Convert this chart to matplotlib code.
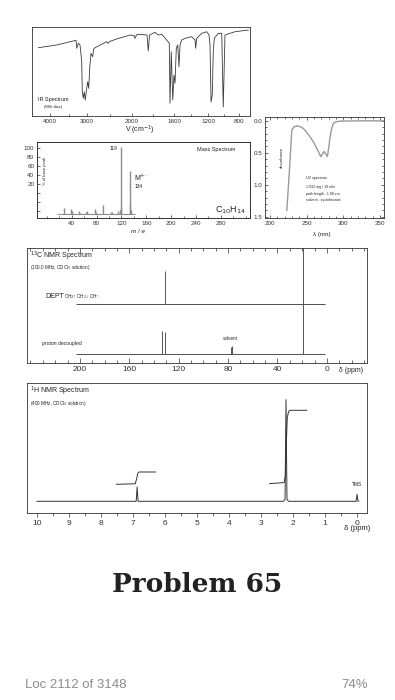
import numpy as np
import matplotlib
matplotlib.use('Agg')
from matplotlib import pyplot as plt
from matplotlib.ticker import FixedLocator, MultipleLocator, FuncFormatter

W, H = 395, 700

# IR trace (wavenumber cm-1, % transmittance)
ir_wn = [4316, 3819, 3370, 3297, 3278, 3235, 3189, 3143, 3127, 3100, 3073, 3046, 3008, 2984, 2962,
         2940, 2911, 2873, 2851, 2822, 2562, 2533, 2500, 2340, 2044, 1981, 1971, 1957, 1940, 1857,
         1845, 1833, 1819, 1781, 1750, 1717, 1670, 1645, 1638, 1626, 1612, 1600, 1588, 1573, 1556,
         1541, 1529, 1509, 1471, 1392, 1353, 1345, 1333, 1274, 1215, 1187, 1174, 1161, 1145, 1132,
         1119, 1067, 1023, 1003, 981, 852, 680]
ir_t = [76.7, 79.8, 84.3, 85.1, 76.1, 81.7, 79.8, 61, 27.3, 19.9, 27.3, 18, 31.1, 38.5, 31.1,
        53.6, 70.4, 66.6, 75.3, 76.7, 83.5, 81.5, 83.7, 86.5, 91, 90.4, 87.3, 91, 91.8, 91,
        73, 91, 91.8, 94, 91, 91.8, 85.4, 81.7, 14.3, 72.2, 18, 46, 36.7, 76, 79.8,
        55.4, 79.8, 85.4, 87.3, 89.1, 85.4, 76.1, 87.3, 92.9, 94.7, 91, 79.8, 15.7, 23.6, 72.2,
        87.3, 92.9, 92.9, 10.1, 91, 94.7, 96.6]
ir_ticks = [4000, 3000, 2000, 1600, 1200, 800]

# mass spectrum
ms_mz = [27, 39, 41, 51, 53, 63, 65, 77, 79, 91, 103, 105, 115, 117, 119, 120, 133, 134, 135]
ms_int = [8.5, 7.5, 4, 4.5, 2, 2.5, 5, 7, 3, 14, 3, 3.5, 4.5, 6, 100, 10, 14, 64, 6]

# UV trace (nm, absorbance)
uv_nm = [222.8, 226.5, 229.6, 232.5, 236.4, 241, 245.4, 250, 254.6, 259, 263.7, 267, 269.2,
         271.5, 273.7, 276, 278.2, 280, 281.9, 284, 286.4, 290, 295.5, 320, 355]
uv_a = [1.40, 0.75, 0.145, 0.095, 0.08, 0.09, 0.12, 0.18, 0.25, 0.33, 0.43, 0.51, 0.56,
        0.52, 0.48, 0.52, 0.56, 0.42, 0.25, 0.12, 0.04, 0.015, 0.005, 0.0, 0.0]

# 13C lines (ppm, height)
c_dept_ppm = [131.0, 19.1]
c_dept_int = [33, 80]
c_dec_ppm = [133.6, 131.0, 77.3, 77.0, 76.7, 19.1]
c_dec_int = [23, 22, 7, 8, 7, 50]

# 1H trace and integrals
h_ppm = [10.0, 6.90, 6.87, 6.84, 2.30, 2.25, 2.22, 2.19, 2.14, 0.03, 0.0, -0.03, -0.05]
h_int = [0, 0, 14.3, 0, 0, 2, 101.7, 2, 0, 0, 7, 0, 0]
int1_ppm = [7.52, 6.93, 6.89, 6.85, 6.81, 6.30]
int1 = [0, 0.5, 5, 11, 12.3, 12.3]
int2_ppm = [2.73, 2.28, 2.24, 2.21, 2.18, 2.14, 2.10, 1.57]
int2 = [0, 1, 8, 40, 66, 72, 73.3, 73.3]

plt.rcParams['font.family'] = ['Liberation Sans', 'DejaVu Sans']
plt.rcParams['axes.linewidth'] = 0.6
plt.rcParams['axes.edgecolor'] = '#333333'
plt.rcParams['text.color'] = '#222222'
plt.rcParams['xtick.color'] = '#333333'
plt.rcParams['ytick.color'] = '#333333'

fig = plt.figure(figsize=(W / 100, H / 100), dpi=100)


def box(x0, y0, x1, y1):
    return fig.add_axes([x0 / W, 1 - y1 / H, (x1 - x0) / W, (y1 - y0) / H])


def label(x, y, s, **kw):
    kw.setdefault('va', 'center')
    fig.text(x / W, 1 - y / H, s, **kw)


# the printed IR chart is piecewise linear (scale changes at 2000 cm-1)
ir_grid_wn = [658, 800, 1200, 1600, 2000, 3000, 4000, 4487]
ir_grid_pos = [-250, -239, -208, -174, -132, -87, -50, -32]


def ir_fwd(w):
    return np.interp(np.asarray(w, float), ir_grid_wn, ir_grid_pos)


def ir_inv(p):
    return np.interp(np.asarray(p, float), ir_grid_pos, ir_grid_wn)


# IR
ax = box(32, 27, 250, 116)
ax.set_xscale('function', functions=(ir_fwd, ir_inv))
ax.set_xlim(4487, 658)
ax.set_ylim(0, 100)
ax.plot(ir_wn, ir_t, color='#3a3a3a', lw=0.6)
ax.set_yticks([])
ax.xaxis.set_major_locator(FixedLocator(ir_ticks))
ax.xaxis.set_major_formatter(FuncFormatter(lambda v, p: f'{v:.0f}'))
ax.xaxis.set_minor_locator(FixedLocator([3500, 2500, 1800, 1400, 1000]))
ax.tick_params(axis='x', which='both', direction='in', length=2, width=0.5, labelsize=4.5, pad=2)
ax.tick_params(axis='x', which='minor', length=1.2)
label(140, 130, 'V (cm$^{-1}$)', ha='center', fontsize=5)
label(38, 100, 'IR Spectrum', fontsize=4)
label(44, 107, '(KBr disc)', fontsize=3)

# mass spectrum
ax = box(37, 142, 250, 218)
ax.set_xlim(-16, 327)
ax.set_ylim(-54.5, 114.4)
ax.yaxis.set_major_locator(FixedLocator([-40, -20, 0, 20, 40, 60, 80, 100]))
ax.yaxis.set_major_formatter(FuncFormatter(lambda v, p: f'{v:.0f}' if v >= 20 else ''))
ax.xaxis.set_major_locator(FixedLocator([40, 80, 120, 160, 200, 240, 280]))
ax.xaxis.set_minor_locator(MultipleLocator(20))
ax.tick_params(which='both', direction='in', length=2, width=0.5, labelsize=4.5, pad=2)
ax.tick_params(which='minor', length=1.2)
axp = ax.twinx()
axp.set_ylim(-6, 107.6)
axp.set_yticks([])
axp.hlines(0, 16, 142, color='#8c8c8c', lw=0.8)
axp.vlines(ms_mz, 0, ms_int, color='#8c8c8c', lw=1.0)
axp.text(114, 98, '119', ha='right', va='center', fontsize=3.5)
axp.text(141, 54, 'M$^{+\\cdot}$', ha='left', va='center', fontsize=5)
axp.text(141, 41, '134', ha='left', va='center', fontsize=3.5)
label(216, 149, 'Mass Spectrum', ha='center', fontsize=4)
label(231, 210, 'C$_{10}$H$_{14}$', ha='center', fontsize=6.5)
label(45, 171, '% of base peak', ha='center', rotation=90, fontsize=3)
label(138, 231, 'm / e', ha='center', fontsize=4.5, style='italic')

# UV
ax = box(265, 117, 384, 218)
ax.set_xlim(193, 355.5)
ax.set_ylim(1.52, -0.06)
ax.plot(uv_nm, uv_a, color='#9a9a9a', lw=1.0)
ax.xaxis.set_major_locator(MultipleLocator(50))
ax.xaxis.set_minor_locator(MultipleLocator(10))
ax.yaxis.set_major_locator(MultipleLocator(0.5))
ax.yaxis.set_minor_locator(MultipleLocator(0.1))
ax.yaxis.set_major_formatter(FuncFormatter(lambda v, p: f'{v:.1f}'))
ax.tick_params(which='both', direction='in', top=True, right=True, length=2, width=0.5,
               labelsize=4.5, pad=2)
ax.tick_params(which='minor', length=1.2)
label(322, 235, 'λ (nm)', ha='center', fontsize=4.5)
label(282, 157, 'absorbance', ha='center', rotation=90, fontsize=3)
for yy, s in zip([178, 187, 193.5, 200],
                 ['UV spectrum', '1.032 mg / 10 mls', 'path length : 1.00 cm', 'solvent : cyclohexane']):
    label(306, yy, s, fontsize=2.6)

# 13C NMR
ax = box(27, 248, 367, 363)
ax.set_xlim(242.8, -32.5)
ax.set_ylim(0, 115)
dept_base, dec_base = 59, 9.5
ax.hlines([dept_base, dec_base], 203, 1.5, color='#333333', lw=0.6)
ax.vlines(c_dept_ppm, dept_base, dept_base + np.array(c_dept_int), color='#555555', lw=0.7)
ax.vlines(c_dec_ppm, dec_base, dec_base + np.array(c_dec_int), color='#555555', lw=0.7)
ax.set_yticks([])
ax.xaxis.set_major_locator(FixedLocator([200, 160, 120, 80, 40, 0]))
ax.xaxis.set_minor_locator(MultipleLocator(10))
ax.tick_params(axis='x', which='both', direction='in', top=True, length=3.5, width=0.5,
               labelsize=6, pad=2)
ax.tick_params(axis='x', which='minor', length=2)
label(351, 370, 'δ (ppm)', ha='center', fontsize=5)
label(30, 256, '$^{13}$C NMR Spectrum', fontsize=5)
label(30, 268, '(100.0 MHz, CDCl$_3$ solution)', fontsize=3.3)
label(45, 297, 'DEPT', fontsize=5)
label(64, 297, 'CH$_3$↑ CH$_2$↓ CH↑', fontsize=3.3)
label(42, 343, 'proton decoupled', fontsize=3.6)
label(230, 338, 'solvent', ha='center', fontsize=3.3)

# 1H NMR
ax = box(27, 383, 367, 513)
ax.set_xlim(10.31, -0.31)
ax.set_ylim(0, 130)
h_base = 11.7
ax.plot(h_ppm, np.array(h_int) + h_base, color='#333333', lw=0.7)
ax.plot(int1_ppm, np.array(int1) + 28.7, color='#333333', lw=0.7)
ax.plot(int2_ppm, np.array(int2) + 29.4, color='#333333', lw=0.7)
ax.set_yticks([])
ax.xaxis.set_major_locator(MultipleLocator(1))
ax.xaxis.set_minor_locator(MultipleLocator(0.5))
ax.tick_params(axis='x', which='both', direction='out', length=3, width=0.5, labelsize=6, pad=2)
ax.tick_params(axis='x', which='minor', length=2)
label(357, 529, 'δ (ppm)', ha='center', fontsize=5.5)
label(30, 391, '$^{1}$H NMR Spectrum', fontsize=5)
label(30, 403, '(400 MHz, CDCl$_3$ solution)', fontsize=3.3)
label(357, 485, 'TMS', ha='center', fontsize=3.5)

label(197, 585, 'Problem 65', ha='center', fontsize=19, fontweight='bold', family='DejaVu Serif')
label(25, 685, 'Loc 2112 of 3148', color='#8c8c8c', fontsize=9.5)
label(368, 685, '74%', ha='right', color='#8c8c8c', fontsize=9.5)

fig.savefig('out.png', dpi=100, facecolor='white')
